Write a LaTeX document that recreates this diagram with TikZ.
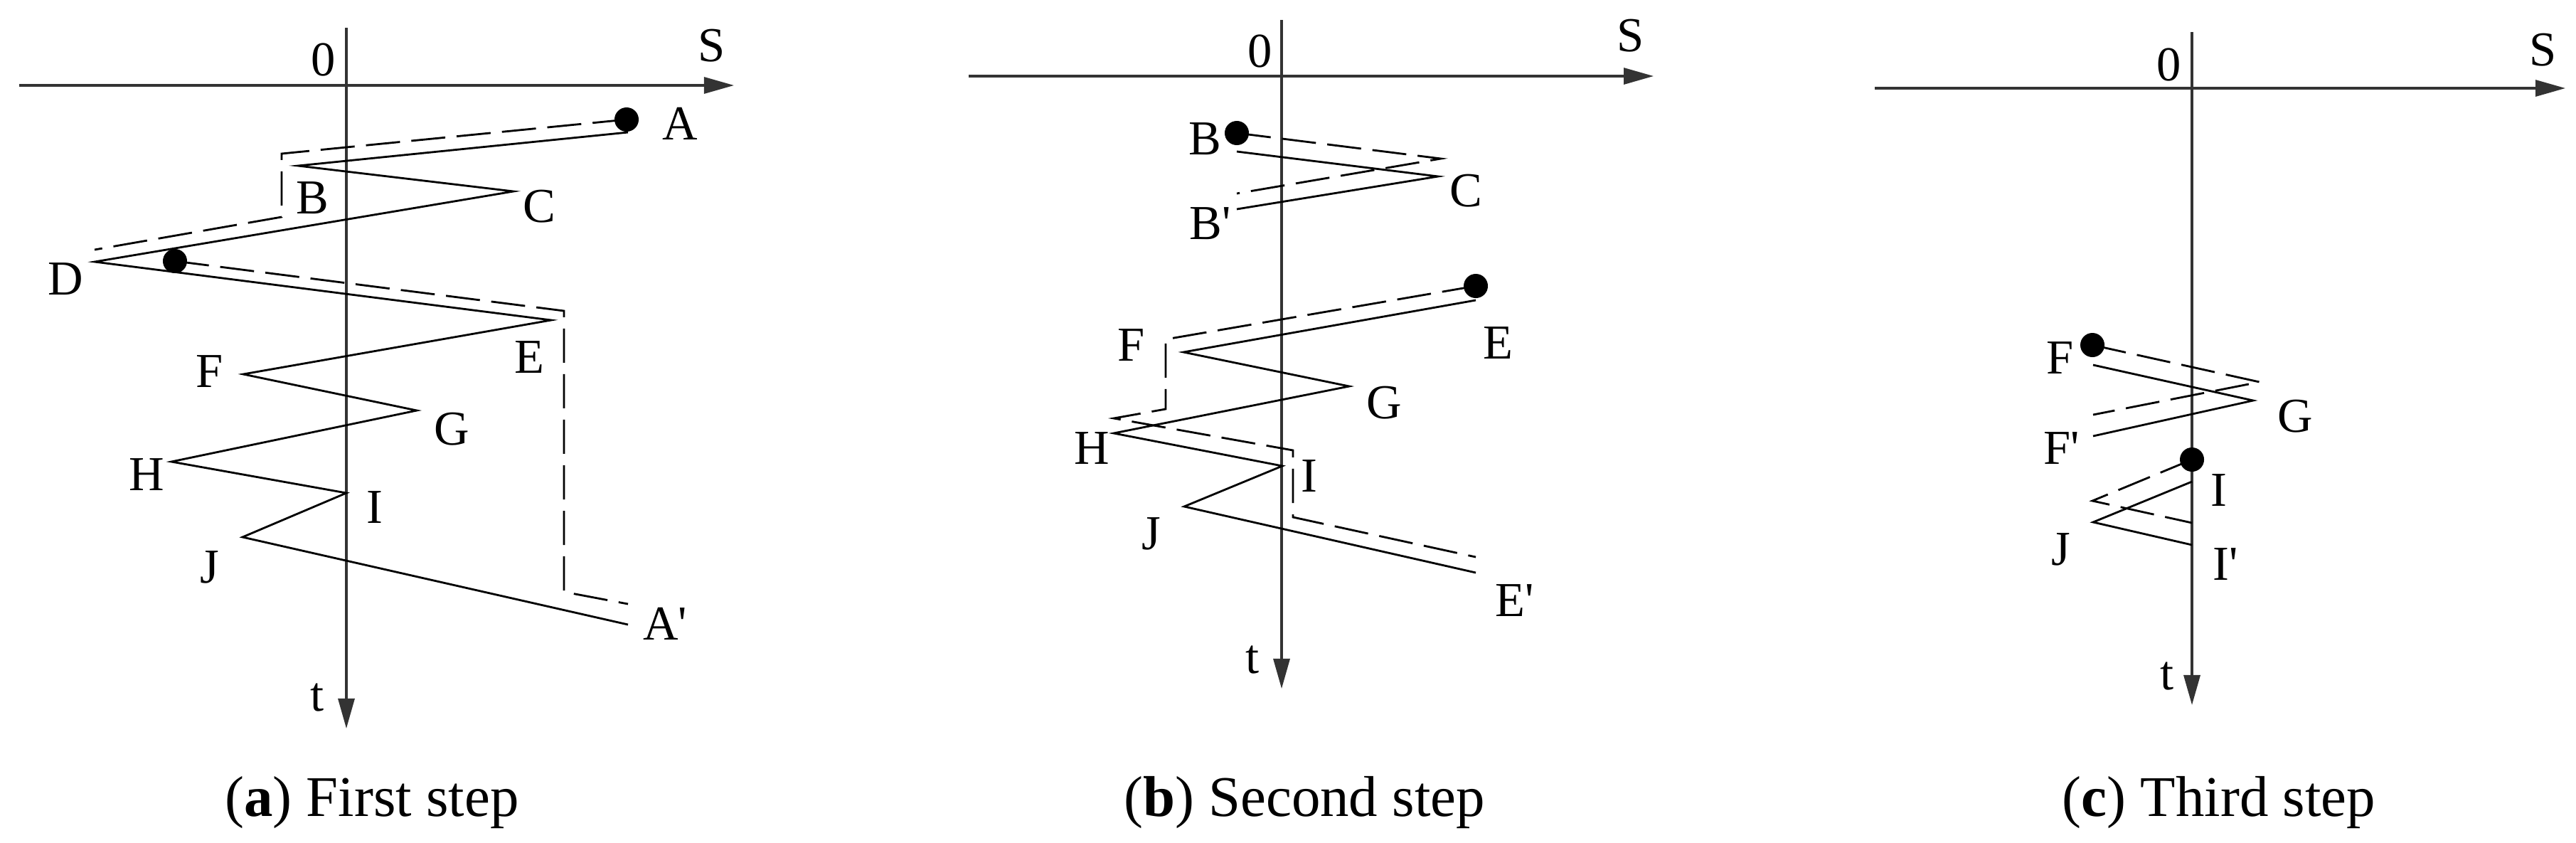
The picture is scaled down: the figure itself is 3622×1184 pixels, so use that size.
\documentclass[tikz,border=0pt]{standalone}
\usepackage{fontspec}
\setmainfont{Liberation Serif}
\usetikzlibrary{arrows.meta}
\newcommand{\quotetick}{\textquotesingle}

\begin{document}
\begin{tikzpicture}[x=0.01cm, y=-0.01cm,
    saxis/.style={draw=black!80, line width=0.9pt, -{Triangle[length=0.42cm,width=0.23cm]}},
    wave/.style={line width=0.8pt},
    back/.style={line width=0.8pt, dash pattern=on 0.48cm off 0.16cm},
    ball/.style={circle, fill=black, inner sep=0pt, minimum size=0.34cm},
    lbl/.style={font=\fontsize{19.5}{22}\selectfont, inner sep=0pt},
    captext/.style={font=\fontsize{23}{26}\selectfont, inner sep=0pt}]

    \useasboundingbox (0,0) rectangle (3622,1184);

    % ---------------- (a) First step ----------------
    % Axes
    \coordinate (aL) at (27,120);
    \coordinate (aR) at (1032,120);
    \coordinate (aTop) at (487,39);
    \coordinate (aBot) at (487,1024);
    \draw[saxis] (aL) -- (aR);
    \draw[saxis] (aTop) -- (aBot);
    \node[lbl] (aZero) at (455,84) {0};
    \node[lbl] (aS) at (1001,64) {S};
    \node[lbl] (aTime) at (446,981) {t};

    % Wave path
    \coordinate (aA) at (883,186);
    \coordinate (aB) at (419,233);
    \coordinate (aC) at (722,269);
    \coordinate (aD) at (133,368);
    \coordinate (aE) at (775,450);
    \coordinate (aF) at (342,526);
    \coordinate (aG) at (586,577);
    \coordinate (aH) at (241,649);
    \coordinate (aI) at (487,693);
    \coordinate (aJ) at (341,755);
    \coordinate (aA2) at (883,878);
    \draw[wave] (aA) -- (aB) -- (aC) -- (aD) -- (aE) -- (aF) -- (aG) -- (aH) -- (aI) -- (aJ) -- (aA2);

    % Dashed paths
    \coordinate (aA0) at (881,168);
    \coordinate (ad1) at (396,216);
    \coordinate (ad2) at (396,305);
    \coordinate (ad3) at (133,351);
    \draw[back] (aA0) -- (ad1) -- (ad2) -- (ad3);
    \coordinate (aD0) at (246,367);
    \coordinate (ad4) at (793,437);
    \coordinate (ad5) at (793,832);
    \coordinate (ad6) at (883,849);
    \draw[back] (aD0) -- (ad4) -- (ad5) -- (ad6);
    \node[ball] (aDotA) at (aA0) {};
    \node[ball] (aDotD) at (aD0) {};

    % Labels
    \node[lbl] (aLA) at (956,174) {A};
    \node[lbl] (aLB) at (439,278) {B};
    \node[lbl] (aLC) at (758,290) {C};
    \node[lbl] (aLD) at (92,392) {D};
    \node[lbl] (aLE) at (744,502) {E};
    \node[lbl] (aLF) at (295,522) {F};
    \node[lbl] (aLG) at (635,603) {G};
    \node[lbl] (aLH) at (206,667) {H};
    \node[lbl] (aLI) at (527,713) {I};
    \node[lbl] (aLJ) at (295,797) {J};
    \node[lbl] (aLA2) at (935,877) {A\quotetick};

    % ---------------- (b) Second step ----------------
    % Axes
    \coordinate (bL) at (1362,107);
    \coordinate (bR) at (2325,107);
    \coordinate (bTop) at (1802,28);
    \coordinate (bBot) at (1802,968);
    \draw[saxis] (bL) -- (bR);
    \draw[saxis] (bTop) -- (bBot);
    \node[lbl] (bZero) at (1772,72) {0};
    \node[lbl] (bS) at (2293,50) {S};
    \node[lbl] (bTime) at (1761,928) {t};

    % Wave paths
    \coordinate (bB) at (1739,213);
    \coordinate (bC) at (2022,248);
    \coordinate (bB2) at (1739,294);
    \draw[wave] (bB) -- (bC) -- (bB2);
    \coordinate (bE) at (2075,422);
    \coordinate (bF) at (1664,495);
    \coordinate (bG) at (1897,543);
    \coordinate (bH) at (1566,609);
    \coordinate (bI) at (1803,655);
    \coordinate (bJ) at (1665,712);
    \coordinate (bE2) at (2075,805);
    \draw[wave] (bE) -- (bF) -- (bG) -- (bH) -- (bI) -- (bJ) -- (bE2);

    % Dashed paths
    \coordinate (bB0) at (1739,187);
    \coordinate (bd1) at (2026,223);
    \coordinate (bd2) at (1739,272);
    \draw[back] (bB0) -- (bd1) -- (bd2);
    \coordinate (bE0) at (2075,402);
    \coordinate (bd3) at (1639,477);
    \coordinate (bd4) at (1639,575);
    \coordinate (bd5) at (1566,588);
    \coordinate (bd6) at (1818,633);
    \coordinate (bd7) at (1818,727);
    \coordinate (bd8) at (2075,783);
    \draw[back] (bE0) -- (bd3) -- (bd4) -- (bd5) -- (bd6) -- (bd7) -- (bd8);
    \node[ball] (bDotB) at (bB0) {};
    \node[ball] (bDotE) at (bE0) {};

    % Labels
    \node[lbl] (bLB) at (1694,195) {B};
    \node[lbl] (bLC) at (2061,268) {C};
    \node[lbl] (bLB2) at (1702,314) {B\quotetick};
    \node[lbl] (bLE) at (2106,482) {E};
    \node[lbl] (bLF) at (1591,485) {F};
    \node[lbl] (bLG) at (1946,566) {G};
    \node[lbl] (bLH) at (1535,630) {H};
    \node[lbl] (bLI) at (1841,669) {I};
    \node[lbl] (bLJ) at (1619,750) {J};
    \node[lbl] (bLE2) at (2130,844) {E\quotetick};

    % ---------------- (c) Third step ----------------
    % Axes
    \coordinate (cL) at (2636,124);
    \coordinate (cR) at (3607,124);
    \coordinate (cTop) at (3082,45);
    \coordinate (cBot) at (3082,991);
    \draw[saxis] (cL) -- (cR);
    \draw[saxis] (cTop) -- (cBot);
    \node[lbl] (cZero) at (3050,91) {0};
    \node[lbl] (cS) at (3576,70) {S};
    \node[lbl] (cTime) at (3047,951) {t};

    % Wave paths
    \coordinate (cF) at (2943,513);
    \coordinate (cG) at (3168,563);
    \coordinate (cF2) at (2943,613);
    \draw[wave] (cF) -- (cG) -- (cF2);
    \coordinate (cI) at (3082,677);
    \coordinate (cJ) at (2943,734);
    \coordinate (cI2) at (3082,766);
    \draw[wave] (cI) -- (cJ) -- (cI2);

    % Dashed paths
    \coordinate (cF0) at (2942,485);
    \coordinate (cd1) at (3177,537);
    \coordinate (cd2) at (2943,583);
    \draw[back] (cF0) -- (cd1) -- (cd2);
    \coordinate (cI0) at (3082,646);
    \coordinate (cd3) at (2942,704);
    \coordinate (cd4) at (3082,735);
    \draw[back] (cI0) -- (cd3) -- (cd4);
    \node[ball] (cDotF) at (cF0) {};
    \node[ball] (cDotI) at (cI0) {};

    % Labels
    \node[lbl] (cLF) at (2897,503) {F};
    \node[lbl] (cLG) at (3227,585) {G};
    \node[lbl] (cLF2) at (2899,630) {F\quotetick};
    \node[lbl] (cLI) at (3120,689) {I};
    \node[lbl] (cLJ) at (2898,772) {J};
    \node[lbl] (cLI2) at (3129,793) {I\quotetick};

    % Captions
    \node[captext] (capA) at (523,1128) {(\textbf{a}) First step};
    \node[captext] (capB) at (1834,1128) {(\textbf{b}) Second step};
    \node[captext] (capC) at (3120,1128) {(\textbf{c}) Third step};

\end{tikzpicture}
\end{document}
